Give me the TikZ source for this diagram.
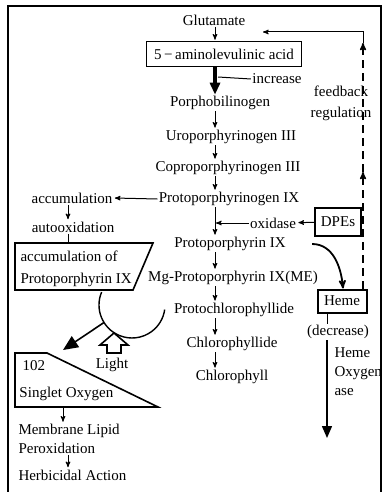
\documentclass[tikz,border=0pt]{standalone}
\usepackage{fontspec}
\setmainfont{Liberation Serif}
\usetikzlibrary{arrows,arrows.meta,calc,positioning}

\begin{document}
\begin{tikzpicture}[x=1pt,y=-1pt,>=stealth',line width=1pt,
		font=\fontsize{15}{22}\selectfont,inner sep=1pt,
		box/.style={draw,line width=2pt},
		flow/.style={->,shorten >=1pt},
		bigtip/.style={-{Triangle[length=12pt,width=10pt]}}]
		\useasboundingbox (0,0) rectangle (386,492);
		% frame, open at the bottom
		\draw[line width=1.6pt] (8,492) |- (381,6) -- (381,492);

		% main pathway
		\node (glu) at (214,20) {Glutamate};
		\node[box,minimum width=155pt,minimum height=25pt,line width=1.6pt] (ala) at (224,54) {5\,−\,aminolevulinic acid};
		\node (porpho) at (220,103) {Porphobilinogen};
		\node (uro) at (231,137) {Uroporphyrinogen III};
		\node (copro) at (228,168) {Coproporphyrinogen III};
		\node (protogen) at (229,199) {Protoporphyrinogen IX};
		\node (proto) at (230,244) {Protoporphyrin IX};
		\node (mg) at (233,278) {Mg-Protoporphyrin IX(ME)};
		\node (pchl) at (234,310) {Protochlorophyllide};
		\node (chlide) at (232,344) {Chlorophyllide};
		\node (chl) at (232,377) {Chlorophyll};
		\coordinate (axis) at (215,0);

		\draw[flow] (glu.south -| axis) -- (ala.north -| axis);
		\draw[bigtip,line width=3.5pt] (ala.south -| axis) -- (porpho.north -| axis);
		\foreach \a/\b in {porpho/uro,uro/copro,copro/protogen,protogen/proto,proto/mg,mg/pchl,pchl/chlide,chlide/chl}
			\draw[flow] (\a.south -| axis) -- (\b.north -| axis);

		\node (inc) at (277,79) {increase};
		\coordinate (incr) at (218,77);
		\draw (incr) -- (inc.west);

		% oxidase and DPEs
		\node (oxi) at (273,223) {oxidase};
		\node[box,minimum width=46pt,minimum height=28pt] (dpe) at (338,222) {DPEs};
		\draw[flow] (oxi.west) -- (oxi.west -| axis);
		\draw[flow] (dpe) -- (oxi);

		% heme branch
		\node[box,minimum width=49pt,minimum height=23pt] (heme) at (342,301) {Heme};
		\draw[->,line width=1.8pt] ([xshift=25pt]proto.east) to[out=0,in=95] ([xshift=1pt]heme.north);
		\node (decr) at (338,332) {(decrease)};
		\coordinate (hx) at (327,0);
		\draw (heme.south -| hx) -- (decr.north -| hx);
		\coordinate (hoend) at (327,438);
		\draw[bigtip,line width=1.5pt] (decr.south -| hx) -- (hoend);
		\node[align=left,anchor=west,font=\fontsize{15}{19}\selectfont] (hox) at (333,372) {Heme\\Oxygen\\ase};

		% feedback regulation
		\coordinate (fb) at (363,32);
		\coordinate (fbmid) at (363,172);
		\coordinate (fbtop) at (363,43);
		\coordinate (fbend) at (263,32);
		\draw[->,line width=1.5pt,dash pattern=on 8pt off 5pt] (heme.north -| fb) -- (fbmid);
		\draw[->,line width=1.5pt,dash pattern=on 8pt off 5pt] (fbmid) -- (fbtop);
		\draw[->] (fbtop) -- (fb) -- (fbend);
		\node[align=center,font=\fontsize{15}{21}\selectfont] (fbtxt) at (341,103) {feedback\\regulation};

		% accumulation side
		\node (accum) at (72,198) {accumulation};
		\node (autox) at (73,227) {autooxidation};
		\draw[flow] (protogen.west) -- (accum.east);
		\coordinate (ax) at (68,0);
		\draw[flow] (accum.south -| ax) -- (autox.north -| ax);
		\coordinate (acctop) at (68,243);
		\draw (autox.south -| acctop) -- (acctop);
		\draw[line width=1.6pt] (15,243) -- (153,243) -- (133,290) -- (15,290) -- cycle;
		\node[align=left,anchor=west] (accpp) at (19,269) {accumulation of\\Protoporphyrin IX};

		% arc, light, singlet oxygen
		\coordinate (ctr) at (132,305);
		\draw[line width=1.4pt] ($(ctr)+(203:33)$) arc[start angle=203,end angle=8,radius=33];
		\coordinate (arcpt) at ($(ctr)+(148:33)$);
		\coordinate (so) at (63,350);
		\draw[-{Triangle[length=15pt,width=13pt]},line width=1.6pt] (arcpt) -- (so);
		\draw[line width=1.6pt] (114,333) -- (128,345) -- (121,345) -- (121,353) -- (107,353) -- (107,345) -- (100,345) -- cycle;
		\node (light) at (112,365) {Light};
		\draw[line width=1.6pt] (15,353) -- (47,353) -- (158,407) -- (15,407) -- cycle;
		\node[anchor=west] (one) at (21,366) {102};
		\node[anchor=west] (singlet) at (18,394) {Singlet Oxygen};
		\coordinate (sox) at (63,407);
		\node[align=left,anchor=west,font=\fontsize{15}{19}\selectfont] (mem) at (17,439) {Membrane Lipid\\Peroxidation};
		\node[anchor=west] (herb) at (17,475) {Herbicidal Action};
		\draw[flow] (sox) -- (mem.north -| sox);
		\coordinate (hx2) at (68,0);
		\draw[flow] (mem.south -| hx2) -- (herb.north -| hx2);
	\end{tikzpicture}
\end{document}
